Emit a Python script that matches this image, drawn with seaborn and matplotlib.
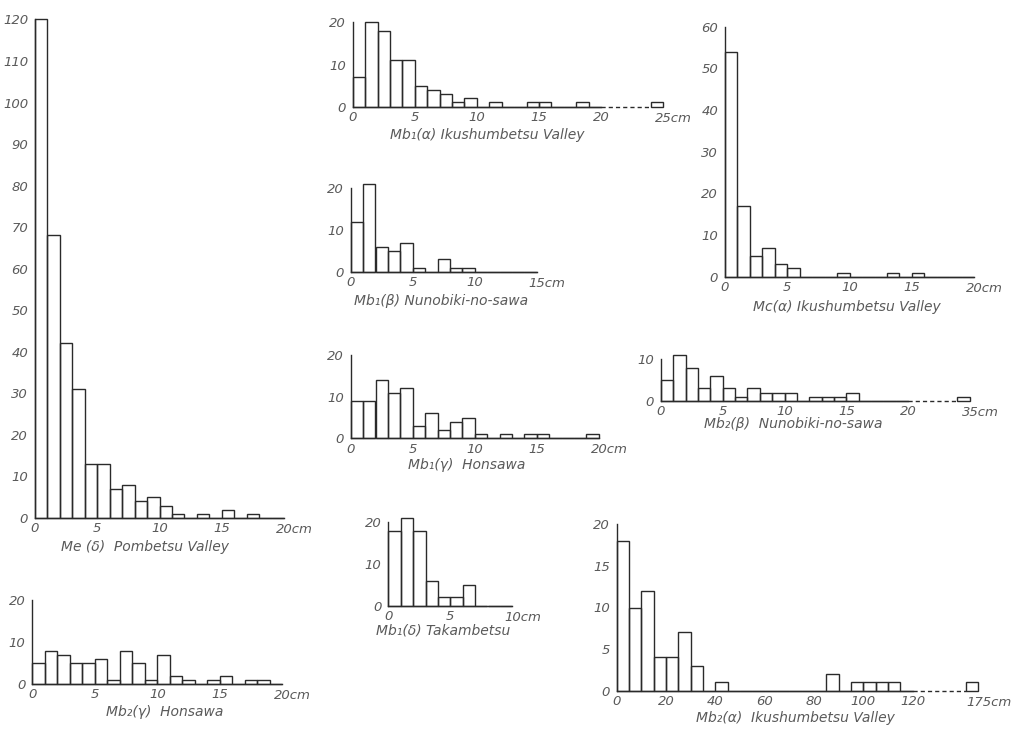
import numpy as np
import matplotlib
matplotlib.use("Agg")
import matplotlib.pyplot as plt
import seaborn as sns

# ---------------- data: counts per size class ----------------
# Me(δ) Pombetsu Valley, 1 cm classes 0-20 cm
me_delta_counts = [120, 68, 42, 31, 13, 13, 7, 8, 4, 5, 3, 1, 0, 1, 0, 2, 0, 1, 0, 0]
# Mb2(γ) Honsawa, 1 cm classes 0-20 cm
mb2_gamma_counts = [5, 8, 7, 5, 5, 6, 1, 8, 5, 1, 7, 2, 1, 0, 1, 2, 0, 1, 1, 0]
# Mb1(α) Ikushumbetsu Valley, 1 cm classes 0-20 cm + one class 24-25 cm
mb1_alpha_counts = [7, 20, 18, 11, 11, 5, 4, 3, 1, 2, 0, 1, 0, 0, 1, 1, 0, 0, 1, 0]
mb1_alpha_extra = [24, 25, 1]          # [class from, class to, count]
# Mb1(β) Nunobiki-no-sawa, 1 cm classes 0-15 cm
mb1_beta_counts = [12, 21, 6, 5, 7, 1, 0, 3, 1, 1, 0, 0, 0, 0, 0]
# Mb1(γ) Honsawa, 1 cm classes 0-20 cm
mb1_gamma_counts = [9, 9, 14, 11, 12, 3, 6, 2, 4, 5, 1, 0, 1, 0, 1, 1, 0, 0, 0, 1]
# Mb1(δ) Takambetsu, 1 cm classes 0-10 cm
mb1_delta_counts = [18, 21, 18, 6, 2, 2, 5, 0, 0, 0]
# Mc(α) Ikushumbetsu Valley, 1 cm classes 0-20 cm
mc_alpha_counts = [54, 17, 5, 7, 3, 2, 0, 0, 0, 1, 0, 0, 0, 1, 0, 1, 0, 0, 0, 0]
# Mb2(β) Nunobiki-no-sawa, 1 cm classes 0-20 cm + one class 34-35 cm
mb2_beta_counts = [5, 11, 8, 3, 6, 3, 1, 3, 2, 2, 2, 0, 1, 1, 1, 2, 0, 0, 0, 0]
mb2_beta_extra = [34, 35, 1]
# Mb2(α) Ikushumbetsu Valley, 5 cm classes 0-120 cm + one class 170-175 cm
mb2_alpha_counts = [18, 10, 12, 4, 4, 7, 3, 0, 1, 0, 0, 0, 0, 0, 0, 0, 0,
                    2, 0, 1, 1, 1, 1, 0]
mb2_alpha_extra = [170, 175, 1]

# tick values / labels
ticks_0_20 = [0, 5, 10, 15, 20]
ticks_0_15 = [0, 5, 10, 15]
ticks_0_10 = [0, 5, 10]
ticks_mb1a = [0, 5, 10, 15, 20, 25]
ticks_mb2b = [0, 5, 10, 15, 20, 35]
ticks_mb2a = [0, 20, 40, 60, 80, 100, 120, 175]

titles = {
    "me_d": "Me (δ)  Pombetsu Valley",
    "mb2_g": "Mb₂(γ)  Honsawa",
    "mb1_a": "Mb₁(α) Ikushumbetsu Valley",
    "mb1_b": "Mb₁(β) Nunobiki-no-sawa",
    "mb1_g": "Mb₁(γ)  Honsawa",
    "mb1_d": "Mb₁(δ) Takambetsu",
    "mc_a": "Mc(α) Ikushumbetsu Valley",
    "mb2_b": "Mb₂(β)  Nunobiki-no-sawa",
    "mb2_a": "Mb₂(α)  Ikushumbetsu Valley",
}

# ---------------- panel content ----------------
panels = {
    "me_d": dict(counts=me_delta_counts, bw=1, extra=None, brk=None,
                 yticks=list(range(0, 121, 10)), xticks=ticks_0_20),
    "mb2_g": dict(counts=mb2_gamma_counts, bw=1, extra=None, brk=None,
                  yticks=[0, 10, 20], xticks=ticks_0_20),
    "mb1_a": dict(counts=mb1_alpha_counts, bw=1, extra=mb1_alpha_extra,
                  brk=(20, 24, 24), yticks=[0, 10, 20], xticks=ticks_mb1a),
    "mb1_b": dict(counts=mb1_beta_counts, bw=1, extra=None, brk=None,
                  yticks=[0, 10, 20], xticks=ticks_0_15),
    "mb1_g": dict(counts=mb1_gamma_counts, bw=1, extra=None, brk=None,
                  yticks=[0, 10, 20], xticks=ticks_0_20),
    "mb1_d": dict(counts=mb1_delta_counts, bw=1, extra=None, brk=None,
                  yticks=[0, 10, 20], xticks=ticks_0_10),
    "mc_a": dict(counts=mc_alpha_counts, bw=1, extra=None, brk=None,
                 yticks=list(range(0, 61, 10)), xticks=ticks_0_20),
    "mb2_b": dict(counts=mb2_beta_counts, bw=1, extra=mb2_beta_extra,
                  brk=(20, 34, 24), yticks=[0, 10], xticks=ticks_mb2b),
    "mb2_a": dict(counts=mb2_alpha_counts, bw=5, extra=mb2_alpha_extra,
                  brk=(120, 170, 141.5), yticks=[0, 5, 10, 15, 20], xticks=ticks_mb2a),
}

# ---------------- layout (pixels in a 1011 x 729 canvas) ----------------
# x0,y0: origin; sx: px per x display unit; sy: px per count; xdisp: display x span
layout = {
    "me_d": dict(x0=35, y0=518, sx=12.45, sy=4.155, xdisp=20, title=(145, 547)),
    "mb2_g": dict(x0=32.3, y0=684.3, sx=12.5, sy=4.2, xdisp=20, title=(165, 712)),
    "mb1_a": dict(x0=352.7, y0=106.7, sx=12.42, sy=4.22, xdisp=25, title=(487, 135)),
    "mb1_b": dict(x0=350.7, y0=271.7, sx=12.4, sy=4.17, xdisp=15, title=(441, 301)),
    "mb1_g": dict(x0=350.7, y0=438.4, sx=12.4, sy=4.17, xdisp=20, title=(467, 465)),
    "mb1_d": dict(x0=388.3, y0=605.7, sx=12.4, sy=4.17, xdisp=10, title=(443, 631)),
    "mc_a": dict(x0=725, y0=276.7, sx=12.46, sy=4.167, xdisp=20, title=(847, 306.7)),
    "mb2_b": dict(x0=661, y0=401, sx=12.35, sy=4.17, xdisp=25, title=(793, 424)),
    "mb2_a": dict(x0=616.7, y0=690.7, sx=12.33 / 5, sy=8.32, xdisp=146.5, title=(795, 718)),
}

W, H = 1011, 729
LINE = "#2a2a2a"
TEXT = "#5a5a5a"

sns.set_theme(style="white")
plt.rcParams["font.family"] = ["DejaVu Sans"]
plt.rcParams["font.style"] = "italic"

fig = plt.figure(figsize=(W / 100, H / 100), dpi=100, facecolor="white")


def make_break(lo, hi, disp_hi):
    k = (disp_hi - lo) / (hi - lo)

    def fwd(x):
        x = np.asarray(x, dtype=float)
        return np.where(x <= lo, x, np.where(x >= hi, x - hi + disp_hi, lo + (x - lo) * k))

    def inv(y):
        y = np.asarray(y, dtype=float)
        return np.where(y <= lo, y, np.where(y >= disp_hi, y - disp_hi + hi, lo + (y - lo) / k))

    return fwd, inv


for key, p in panels.items():
    lay = layout[key]
    ytop = p["yticks"][-1]
    rect = [lay["x0"] / W, 1 - lay["y0"] / H,
            lay["xdisp"] * lay["sx"] / W, ytop * lay["sy"] / H]
    ax = fig.add_axes(rect)
    ax.set_facecolor("none")

    counts = [float(c) for c in p["counts"]]
    bw = p["bw"]
    nb = len(counts)
    centers = [(i + 0.5) * bw for i in range(nb)]
    sns.histplot(x=centers, weights=counts, binwidth=bw, binrange=(0, nb * bw),
                 ax=ax, fill=False, color=LINE, linewidth=1.0)
    if p["extra"] is not None:
        a, b, c = p["extra"]
        sns.histplot(x=[(a + b) / 2], weights=[float(c)], binwidth=b - a,
                     binrange=(a, b), ax=ax, fill=False, color=LINE, linewidth=1.0)

    solid_end = nb * bw
    if p["brk"] is not None:
        lo, hi, disp_hi = p["brk"]
        fwd, inv = make_break(lo, hi, disp_hi)
        ax.set_xscale("function", functions=(fwd, inv))
        xmax = float(inv(lay["xdisp"]))
        ax.plot([lo, hi], [0, 0], color=LINE, lw=1.0, ls=(0, (3, 2.2)), clip_on=False)
        solid_end = lo
    else:
        xmax = lay["xdisp"]

    ax.set_xlim(0, xmax)
    ax.set_ylim(0, ytop)
    for patch in ax.patches:
        patch.set_clip_on(False)

    # spines
    for s in ["top", "right"]:
        ax.spines[s].set_visible(False)
    for s in ["left", "bottom"]:
        ax.spines[s].set_color(LINE)
        ax.spines[s].set_linewidth(1.0)
    ax.spines["left"].set_bounds(0, ytop)
    ax.spines["bottom"].set_bounds(0, solid_end)

    # ticks
    ax.set_yticks(p["yticks"])
    ax.set_yticklabels([str(v) for v in p["yticks"]])
    xt = p["xticks"]
    ax.set_xticks(xt)
    ax.set_xticklabels([str(v) for v in xt[:-1]] + [""])
    ax.xaxis.set_minor_locator(matplotlib.ticker.NullLocator())
    ax.tick_params(axis="both", direction="in", length=4, width=0.9, color=LINE,
                   labelcolor=TEXT, labelsize=9.5)
    ax.tick_params(axis="y", pad=5)
    ax.tick_params(axis="x", pad=3)
    ax.annotate(f"{xt[-1]}cm", xy=(xt[-1], 0), xycoords="data",
                xytext=(-2.9 * len(str(xt[-1])), -3.5), textcoords="offset points",
                ha="left", va="top", fontsize=9.5, color=TEXT, annotation_clip=False)
    ax.set_xlabel("")
    ax.set_ylabel("")
    ax.grid(False)

    tx, ty = lay["title"]
    fig.text(tx / W, 1 - ty / H, titles[key], ha="center", va="center",
             fontsize=10, color=TEXT)

fig.savefig("out.png", dpi=100, facecolor="white")
